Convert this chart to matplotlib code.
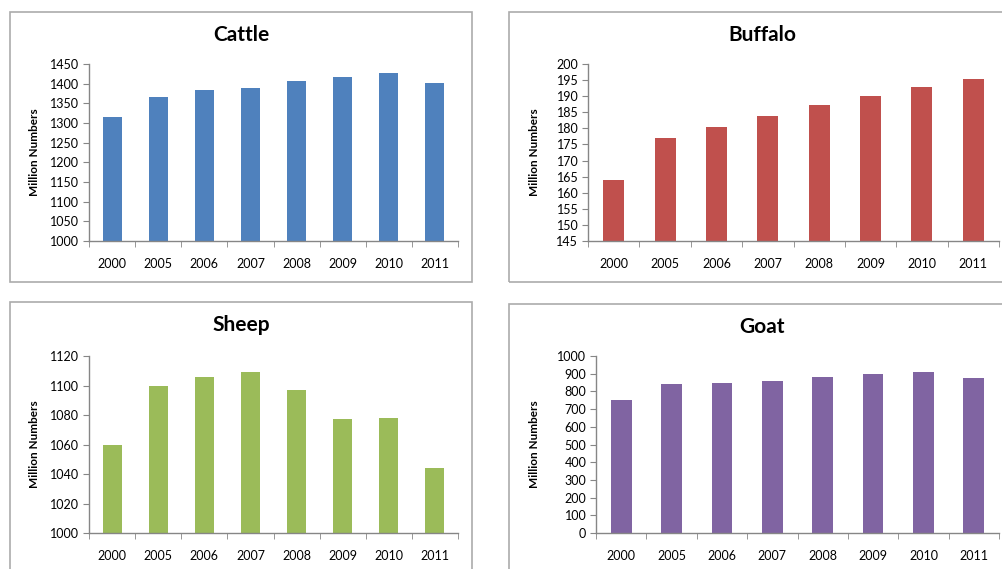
import matplotlib.pyplot as plt
from matplotlib.patches import Rectangle
import numpy as np

plt.rcParams['font.family'] = ['Lato', 'DejaVu Sans']

W, H = 1002, 569

years = ['2000', '2005', '2006', '2007', '2008', '2009', '2010', '2011']

cattle = [1315, 1366, 1384, 1389, 1407, 1417, 1427, 1402]
buffalo = [164.1, 177.0, 180.4, 183.9, 187.2, 190.1, 192.7, 195.3]
sheep = [1060, 1100, 1106, 1109, 1097, 1077, 1078, 1044]
goat = [751, 842, 847, 859, 879, 900, 911, 874]

# (name, values, colour, y-limits, y-step, frame box px, axes box px)
panels = [
    ('Cattle', cattle, '#4F81BD', (1000, 1450), 50, (10, 12, 472, 282), (89, 64, 458, 241)),
    ('Buffalo', buffalo, '#C0504D', (145, 200), 5, (509, 12, 1015, 282), (588, 64, 999, 241)),
    ('Sheep', sheep, '#9BBB59', (1000, 1120), 20, (10, 302, 472, 580), (89, 356, 458, 533)),
    ('Goat', goat, '#8064A2', (0, 1000), 100, (509, 304, 1015, 580), (596, 356, 999, 533)),
]

fig = plt.figure(figsize=(W / 100, H / 100), dpi=100)
fig.patch.set_facecolor('white')

axis_col = '#868686'

for name, vals, col, (lo, hi), step, frame, box in panels:
    fx0, fy0, fx1, fy1 = frame
    fig.patches.append(Rectangle((fx0 / W, 1 - fy1 / H), (fx1 - fx0) / W, (fy1 - fy0) / H,
                                 transform=fig.transFigure, fill=False,
                                 edgecolor='#ABABAB', linewidth=1.2))
    fig.text((fx0 + fx1) / 2 / W, 1 - (fy0 + 23) / H, name, ha='center', va='center',
             fontsize=15, fontweight='bold', color='black')

    x0, y0, x1, y1 = box
    ax = fig.add_axes([x0 / W, 1 - y1 / H, (x1 - x0) / W, (y1 - y0) / H])
    x = np.arange(len(years))
    ax.bar(x, [v - lo for v in vals], bottom=lo, width=0.41, color=col, linewidth=0)
    ax.set_xlim(-0.5, len(years) - 0.5)
    ax.set_ylim(lo, hi)
    ax.set_yticks(np.arange(lo, hi + step / 2, step))
    ax.set_xticks(x)
    ax.set_xticklabels(years)
    # category separators on the x axis
    ax.set_xticks(np.arange(-0.5, len(years)), minor=True)
    ax.tick_params(axis='x', which='major', length=0, pad=12, labelsize=9, colors='black')
    ax.tick_params(axis='x', which='minor', length=4, direction='out', color=axis_col)
    ax.tick_params(axis='y', length=4, direction='out', color=axis_col, labelsize=9, pad=3)
    for s in ('top', 'right'):
        ax.spines[s].set_visible(False)
    for s in ('left', 'bottom'):
        ax.spines[s].set_color(axis_col)
        ax.spines[s].set_linewidth(1.0)
    fig.text((fx0 + 25) / W, 1 - ((y0 + y1) / 2) / H, 'Million Numbers', rotation=90,
             ha='center', va='center', fontsize=8.5, fontweight='bold')

fig.savefig('out.png', dpi=100)
